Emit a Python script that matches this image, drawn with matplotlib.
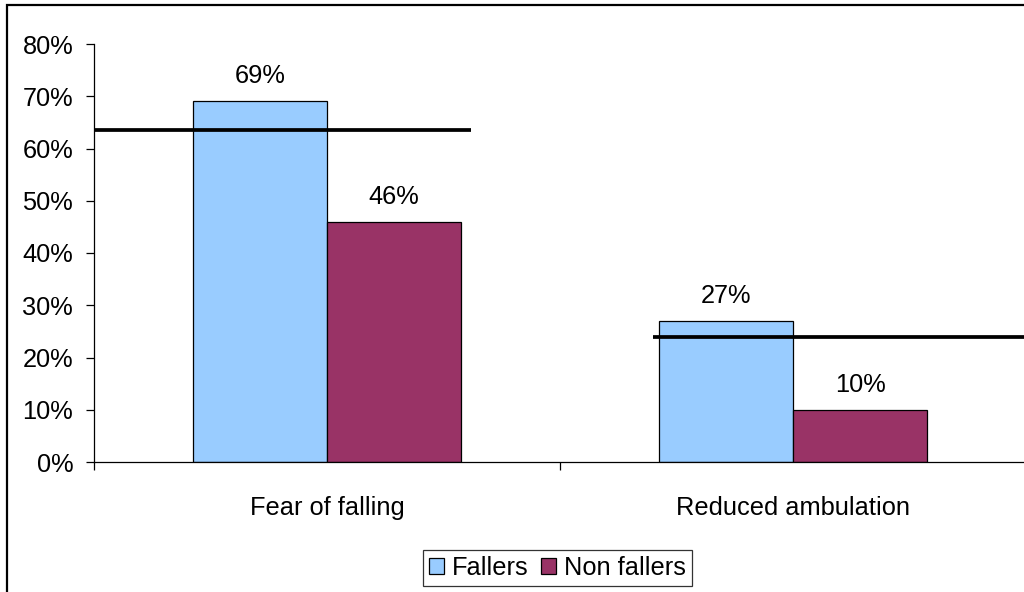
import matplotlib
matplotlib.use("Agg")
import matplotlib.pyplot as plt
from matplotlib.patches import Rectangle
from matplotlib.ticker import PercentFormatter

plt.rcParams['font.family'] = ['Liberation Sans', 'DejaVu Sans']

categories = ['Fear of falling', 'Reduced ambulation']
fallers = [0.69, 0.27]
non_fallers = [0.46, 0.10]
fallers_labels = ['69%', '27%']
non_fallers_labels = ['46%', '10%']

# reference levels drawn as thick black lines over each group
ref_levels = [0.635, 0.24]
ref_spans = [(-0.5, 0.31), (0.70, 1.5)]

FS = 18.3
W = 0.2876

fig = plt.figure(figsize=(10.24, 5.92), dpi=100)
ax = fig.add_axes([94 / 1024, 1 - 462 / 592, 932 / 1024, 418 / 592])

x = list(range(len(categories)))
b1 = ax.bar([i - W / 2 for i in x], fallers, W, color='#99CCFF',
            edgecolor='black', linewidth=0.9, label='Fallers', zorder=2)
b2 = ax.bar([i + W / 2 for i in x], non_fallers, W, color='#993366',
            edgecolor='black', linewidth=0.9, label='Non fallers', zorder=2)

for bars, labs in ((b1, fallers_labels), (b2, non_fallers_labels)):
    for rect, lab in zip(bars, labs):
        ax.annotate(lab, (rect.get_x() + rect.get_width() / 2, rect.get_height()),
                    xytext=(0, 18), textcoords='offset points',
                    ha='center', va='center', fontsize=FS)

for lvl, (x0, x1) in zip(ref_levels, ref_spans):
    ax.hlines(lvl, x0, x1, color='black', linewidth=2.7, zorder=3, clip_on=False)

ax.set_xlim(-0.5, 1.5)
ax.set_ylim(0, 0.8)
ax.set_yticks([i / 10 for i in range(9)])
ax.yaxis.set_major_formatter(PercentFormatter(1.0, decimals=0))
ax.tick_params(axis='y', direction='out', length=6, width=0.9, pad=9, labelsize=FS)

ax.set_xticks(x)
ax.set_xticklabels(categories)
ax.set_xticks([-0.5, 0.5, 1.5], minor=True)
ax.tick_params(axis='x', which='major', length=0, pad=24.5, labelsize=FS)
ax.tick_params(axis='x', which='minor', direction='out', length=6, width=0.9)

for side in ('top', 'right'):
    ax.spines[side].set_visible(False)
for side in ('left', 'bottom'):
    ax.spines[side].set_linewidth(0.9)

leg = fig.legend(handles=[b1, b2], loc='center',
                 bbox_to_anchor=(557.5 / 1024, 1 - 568 / 592),
                 ncol=2, fontsize=FS, frameon=True, fancybox=False,
                 handlelength=0.6, handleheight=0.6, handletextpad=0.3,
                 columnspacing=0.5, borderpad=0.25, borderaxespad=0)
leg.get_frame().set_edgecolor('black')
leg.get_frame().set_linewidth(0.9)

# outer chart frame
fig.patches.append(Rectangle((7 / 1024, -0.1), 1.2, 1.1 - 5 / 592,
                             transform=fig.transFigure, fill=False,
                             edgecolor='black', linewidth=1.6))

fig.savefig('out.png', dpi=100)
